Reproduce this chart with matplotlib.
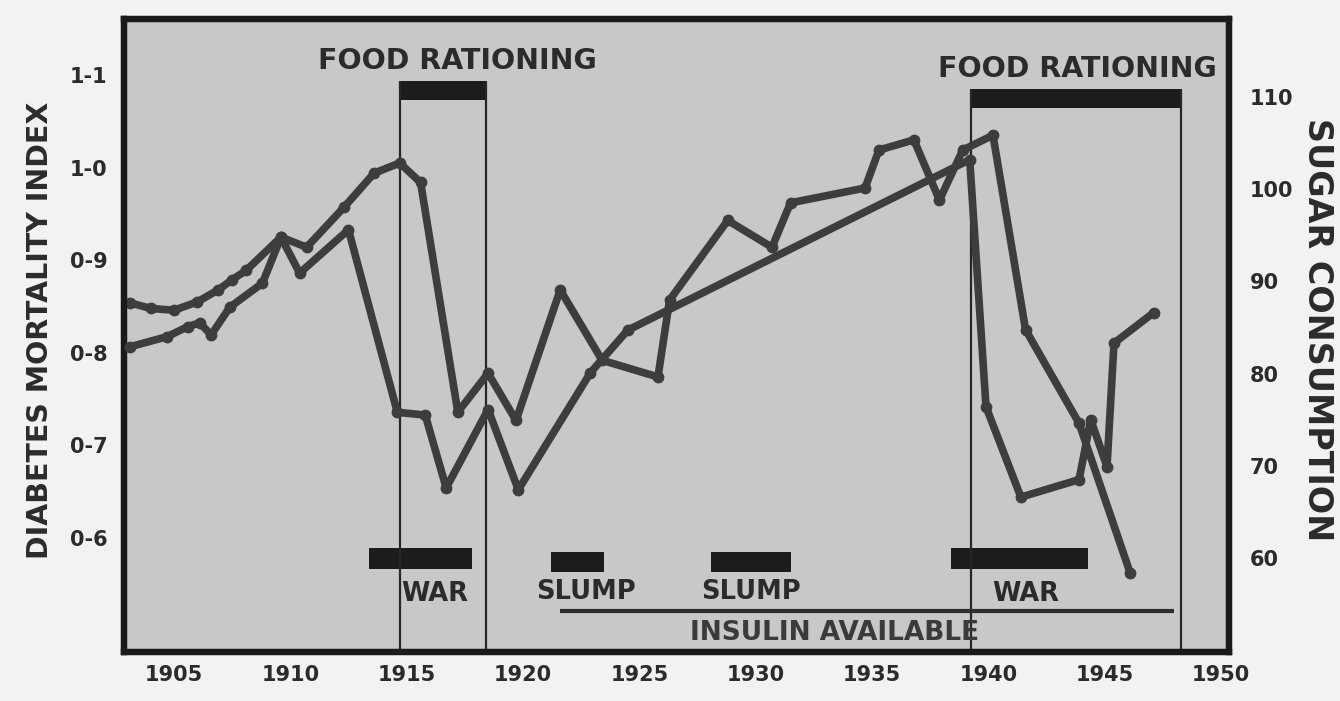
import matplotlib
matplotlib.use('Agg')
import matplotlib.pyplot as plt

# Diabetes mortality index (left axis)
mort_years = [1903.1, 1904.0, 1905.0, 1906.0, 1906.9, 1907.5, 1908.1, 1909.6,
              1910.7, 1912.3, 1913.6, 1914.7, 1915.6, 1917.2, 1918.5, 1919.7,
              1921.6, 1923.4, 1925.8, 1926.3, 1928.8, 1930.7, 1931.5, 1934.7,
              1935.3, 1936.8, 1937.9, 1938.9, 1940.2, 1941.6, 1943.9, 1946.1]
mort_index = [0.854, 0.848, 0.846, 0.855, 0.868, 0.879, 0.889, 0.925,
              0.914, 0.957, 0.994, 1.005, 0.984, 0.736, 0.778, 0.727,
              0.868, 0.792, 0.774, 0.857, 0.943, 0.914, 0.962, 0.978,
              1.019, 1.030, 0.965, 1.019, 1.035, 0.825, 0.724, 0.562]

# Sugar consumption (right axis)
sugar_years = [1903.1, 1904.7, 1905.6, 1906.1, 1906.6, 1907.4, 1908.8, 1909.6,
               1910.4, 1912.5, 1914.6, 1915.8, 1916.7, 1918.5, 1919.8, 1922.9,
               1924.5, 1939.2, 1939.9, 1941.4, 1943.9, 1944.4, 1945.1, 1945.4,
               1947.1]
sugar = [82.9, 84.0, 85.1, 85.5, 84.2, 87.2, 89.8, 94.8,
         90.9, 95.6, 75.8, 75.5, 67.6, 76.1, 67.4, 80.1,
         84.7, 103.2, 76.4, 66.6, 68.5, 75.0, 69.9, 83.3,
         86.6]

# periods marked on the chart
ration_start = [1914.7, 1939.25]
ration_end = [1918.4, 1948.3]
ration_label_x = [1917.2, 1943.85]
war_start = [1913.4, 1938.4]
war_end = [1917.8, 1944.3]
war_label_x = [1916.2, 1941.6]
slump_start = [1921.2, 1928.1]
slump_end = [1923.5, 1931.5]
slump_label_x = [1922.7, 1929.8]
insulin_start = 1921.6
insulin_end = 1948.0
insulin_label_x = 1933.4

x_ticks = [1905, 1910, 1915, 1920, 1925, 1930, 1935, 1940, 1945, 1950]
left_ticks = [0.6, 0.7, 0.8, 0.9, 1.0, 1.1]
left_labels = ['0-6', '0-7', '0-8', '0-9', '1-0', '1-1']
right_ticks = [60, 70, 80, 90, 100, 110]

ink = '#2b2b2b'
line_col = '#3d3d3d'

fig = plt.figure(figsize=(13.4, 7.01), dpi=100, facecolor='#f2f2f0')
ax = fig.add_axes([0.0925, 0.0699, 0.8246, 0.903])
ax.set_facecolor('#c8c8c6')
ax.set_xlim(1902.85, 1950.34)
ax.set_ylim(0.477, 1.1605)

ax2 = ax.twinx()
ax2.set_ylim(49.8, 118.46)

# rationing boxes: bar on top, thin lines down to the bottom
for s, e, lx in zip(ration_start, ration_end, ration_label_x):
    top = 1.094 if s < 1930 else 1.085
    ax.fill_between([s, e], top - 0.021, top, color='#1c1c1c', lw=0)
    ax.vlines([s, e], 0.477, top, colors='#262626', lw=1.6)
    ax.text(lx, top + 0.021, 'FOOD RATIONING', ha='center', va='center',
            fontsize=20.5, fontweight='bold', color=ink)

for s, e, lx in zip(war_start, war_end, war_label_x):
    ax.fill_between([s, e], 0.567, 0.589, color='#1c1c1c', lw=0)
    ax.text(lx, 0.540, 'WAR', ha='center', va='center', fontsize=18.5,
            fontweight='bold', color=ink)

for s, e, lx in zip(slump_start, slump_end, slump_label_x):
    ax.fill_between([s, e], 0.563, 0.585, color='#1c1c1c', lw=0)
    ax.text(lx, 0.542, 'SLUMP', ha='center', va='center', fontsize=18.5,
            fontweight='bold', color=ink)

ax.hlines(0.521, insulin_start, insulin_end, colors='#2e2e2e', lw=3)
ax.text(insulin_label_x, 0.497, 'INSULIN AVAILABLE', ha='center',
        va='center', fontsize=19, fontweight='bold', color='#3a3a3a')

ax.plot(mort_years, mort_index, color=line_col, lw=5.5, marker='o', ms=7.5,
        solid_joinstyle='round', solid_capstyle='round', zorder=5)
ax2.plot(sugar_years, sugar, color=line_col, lw=5.5, marker='o', ms=7.5,
         solid_joinstyle='round', solid_capstyle='round', zorder=5)

ax.set_xticks(x_ticks)
ax.set_xticklabels([str(t) for t in x_ticks])
ax.set_yticks(left_ticks)
ax.set_yticklabels(left_labels)
ax2.set_yticks(right_ticks)
ax2.set_yticklabels([str(t) for t in right_ticks])

ax.tick_params(axis='x', length=0, pad=9, labelsize=15, colors=ink)
ax.tick_params(axis='y', length=0, pad=12, labelsize=15, colors=ink)
ax2.tick_params(axis='y', length=0, pad=15, labelsize=15, colors=ink)
for lab in ax.get_xticklabels() + ax.get_yticklabels() + ax2.get_yticklabels():
    lab.set_fontweight('bold')

for a in (ax, ax2):
    for sp in a.spines.values():
        sp.set_linewidth(4.5)
        sp.set_color('#1a1a1a')

fig.text(40 / 1340, 1 - 330 / 701, 'DIABETES MORTALITY INDEX', rotation=90,
         ha='center', va='center', fontsize=20.5, fontweight='bold', color=ink)
fig.text(1318 / 1340, 1 - 330 / 701, 'SUGAR CONSUMPTION', rotation=-90,
         ha='center', va='center', fontsize=24, fontweight='bold', color=ink)

fig.savefig('out.png', dpi=100, facecolor=fig.get_facecolor())
